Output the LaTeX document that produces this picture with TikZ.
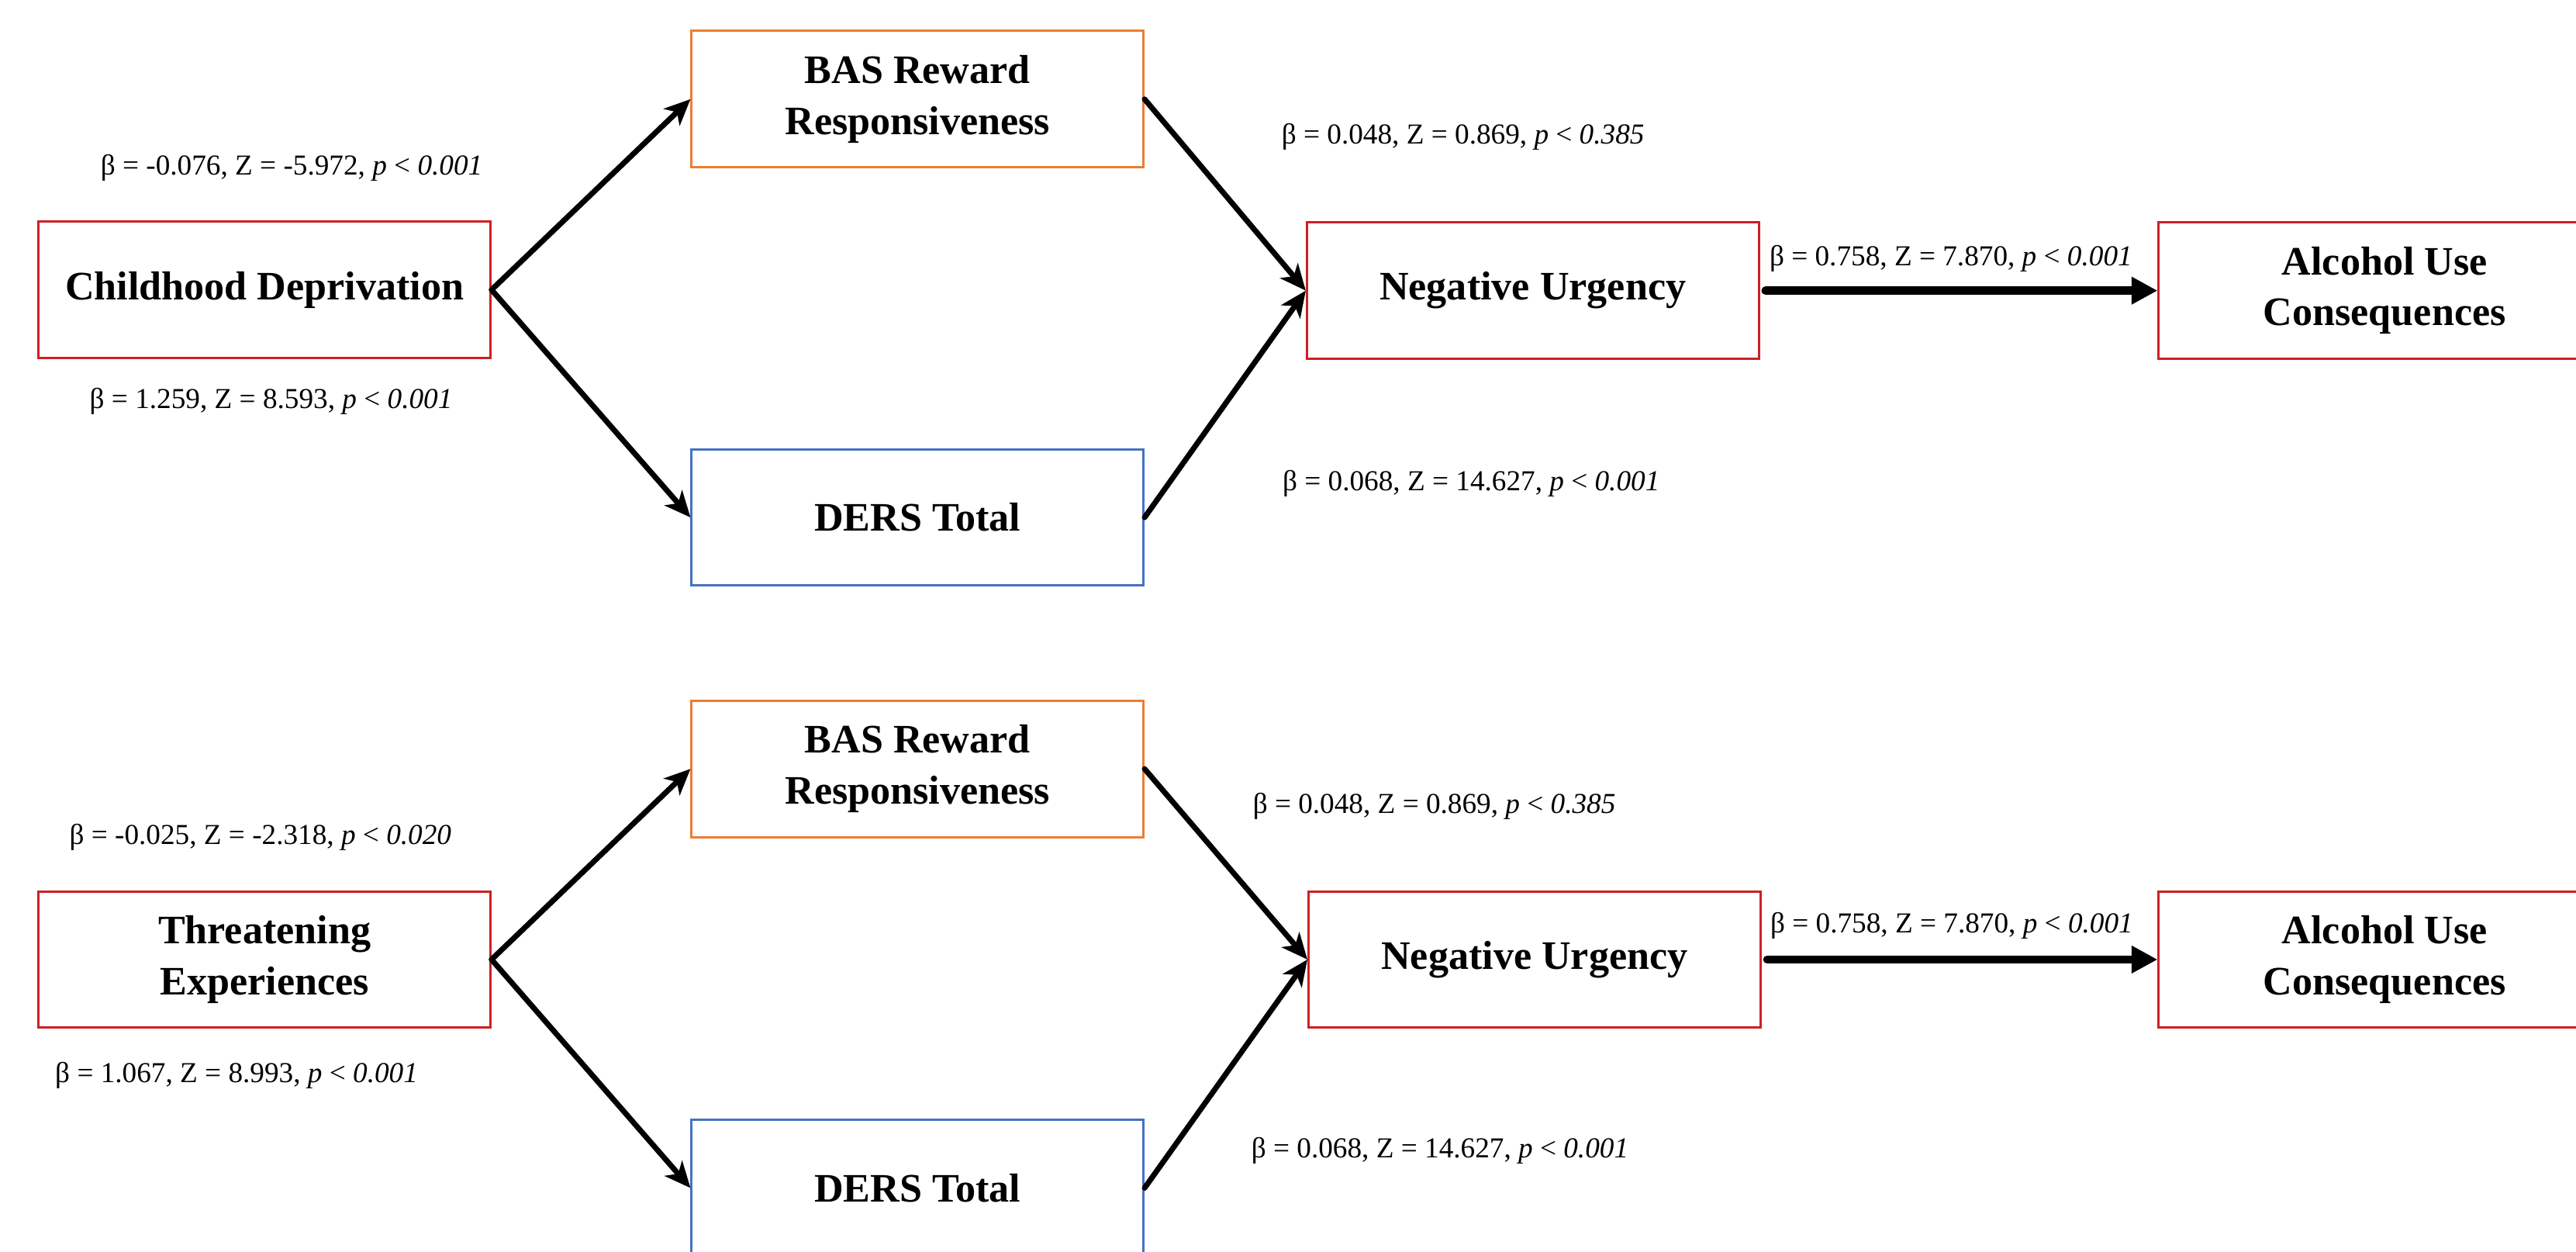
\documentclass[tikz,border=0pt]{standalone}
\usepackage{fontspec}
\setmainfont{Liberation Serif}
\usepackage{tikz}
\usetikzlibrary{arrows.meta}
\usepackage{xcolor}
\definecolor{boxred}{RGB}{204,32,36}
\definecolor{boxorange}{RGB}{237,125,49}
\definecolor{boxblue}{RGB}{68,114,196}

\begin{document}
\begin{tikzpicture}[>={Stealth[length=9pt,width=8pt,inset=2.5pt]},line cap=round,
  var/.style={draw=#1,text=black,line width=0.8pt,minimum width=5.5cm,minimum height=1.66cm,inner sep=0pt,align=center,font=\fontsize{14}{17.6}\selectfont\bfseries},
  path/.style={->,line width=1.9pt},
  mainpath/.style={->,line width=2.9pt,>={Triangle[length=9pt,width=9pt]}},
  est/.style={font=\fontsize{10}{12}\selectfont,inner sep=0pt}]
\useasboundingbox (0,0) rectangle (31.36,15.227);
% deprivation model
\node[var=boxred] (cd) at (3.22,11.70) {Childhood Deprivation};
\node[var=boxorange] (bas1) at (11.17,14.02) {BAS Reward\\Responsiveness};
\node[var=boxblue] (ders1) at (11.17,8.93) {DERS Total};
\node[var=boxred] (nu1) at (18.66,11.69) {Negative Urgency};
\node[var=boxred] (auc1) at (29.03,11.69) {Alcohol Use\\Consequences};
\draw[path] (cd.east) -- (bas1.west);
\draw[path] (cd.east) -- (ders1.west);
\draw[path] (bas1.east) -- (nu1.west);
\draw[path] (ders1.east) -- (nu1.west);
\draw[mainpath] ([xshift=2pt]nu1.east) -- (auc1.west);
\node[est] (b1) at (3.55,13.18) {β = -0.076, Z = -5.972, {\itshape p} < {\itshape 0.001}};
\node[est] (b2) at (3.30,10.34) {β = 1.259, Z = 8.593, {\itshape p} < {\itshape 0.001}};
\node[est] (b3) at (17.81,13.56) {β = 0.048, Z = 0.869, {\itshape p} < {\itshape 0.385}};
\node[est] (b4) at (17.91,9.34) {β = 0.068, Z = 14.627, {\itshape p} < {\itshape 0.001}};
\node[est] (b5) at (23.75,12.08) {β = 0.758, Z = 7.870, {\itshape p} < {\itshape 0.001}};
% threat model
\node[var=boxred] (te) at (3.22,3.55) {Threatening\\Experiences};
\node[var=boxorange] (bas2) at (11.17,5.87) {BAS Reward\\Responsiveness};
\node[var=boxblue] (ders2) at (11.17,0.77) {DERS Total};
\node[var=boxred] (nu2) at (18.68,3.55) {Negative Urgency};
\node[var=boxred] (auc2) at (29.03,3.55) {Alcohol Use\\Consequences};
\draw[path] (te.east) -- (bas2.west);
\draw[path] (te.east) -- (ders2.west);
\draw[path] (bas2.east) -- (nu2.west);
\draw[path] (ders2.east) -- (nu2.west);
\draw[mainpath] ([xshift=2pt]nu2.east) -- (auc2.west);
\node[est] (b6) at (3.17,5.04) {β = -0.025, Z = -2.318, {\itshape p} < {\itshape 0.020}};
\node[est] (b7) at (2.88,2.14) {β = 1.067, Z = 8.993, {\itshape p} < {\itshape 0.001}};
\node[est] (b8) at (17.46,5.42) {β = 0.048, Z = 0.869, {\itshape p} < {\itshape 0.385}};
\node[est] (b9) at (17.53,1.22) {β = 0.068, Z = 14.627, {\itshape p} < {\itshape 0.001}};
\node[est] (b10) at (23.76,3.96) {β = 0.758, Z = 7.870, {\itshape p} < {\itshape 0.001}};
\end{tikzpicture}
\end{document}
